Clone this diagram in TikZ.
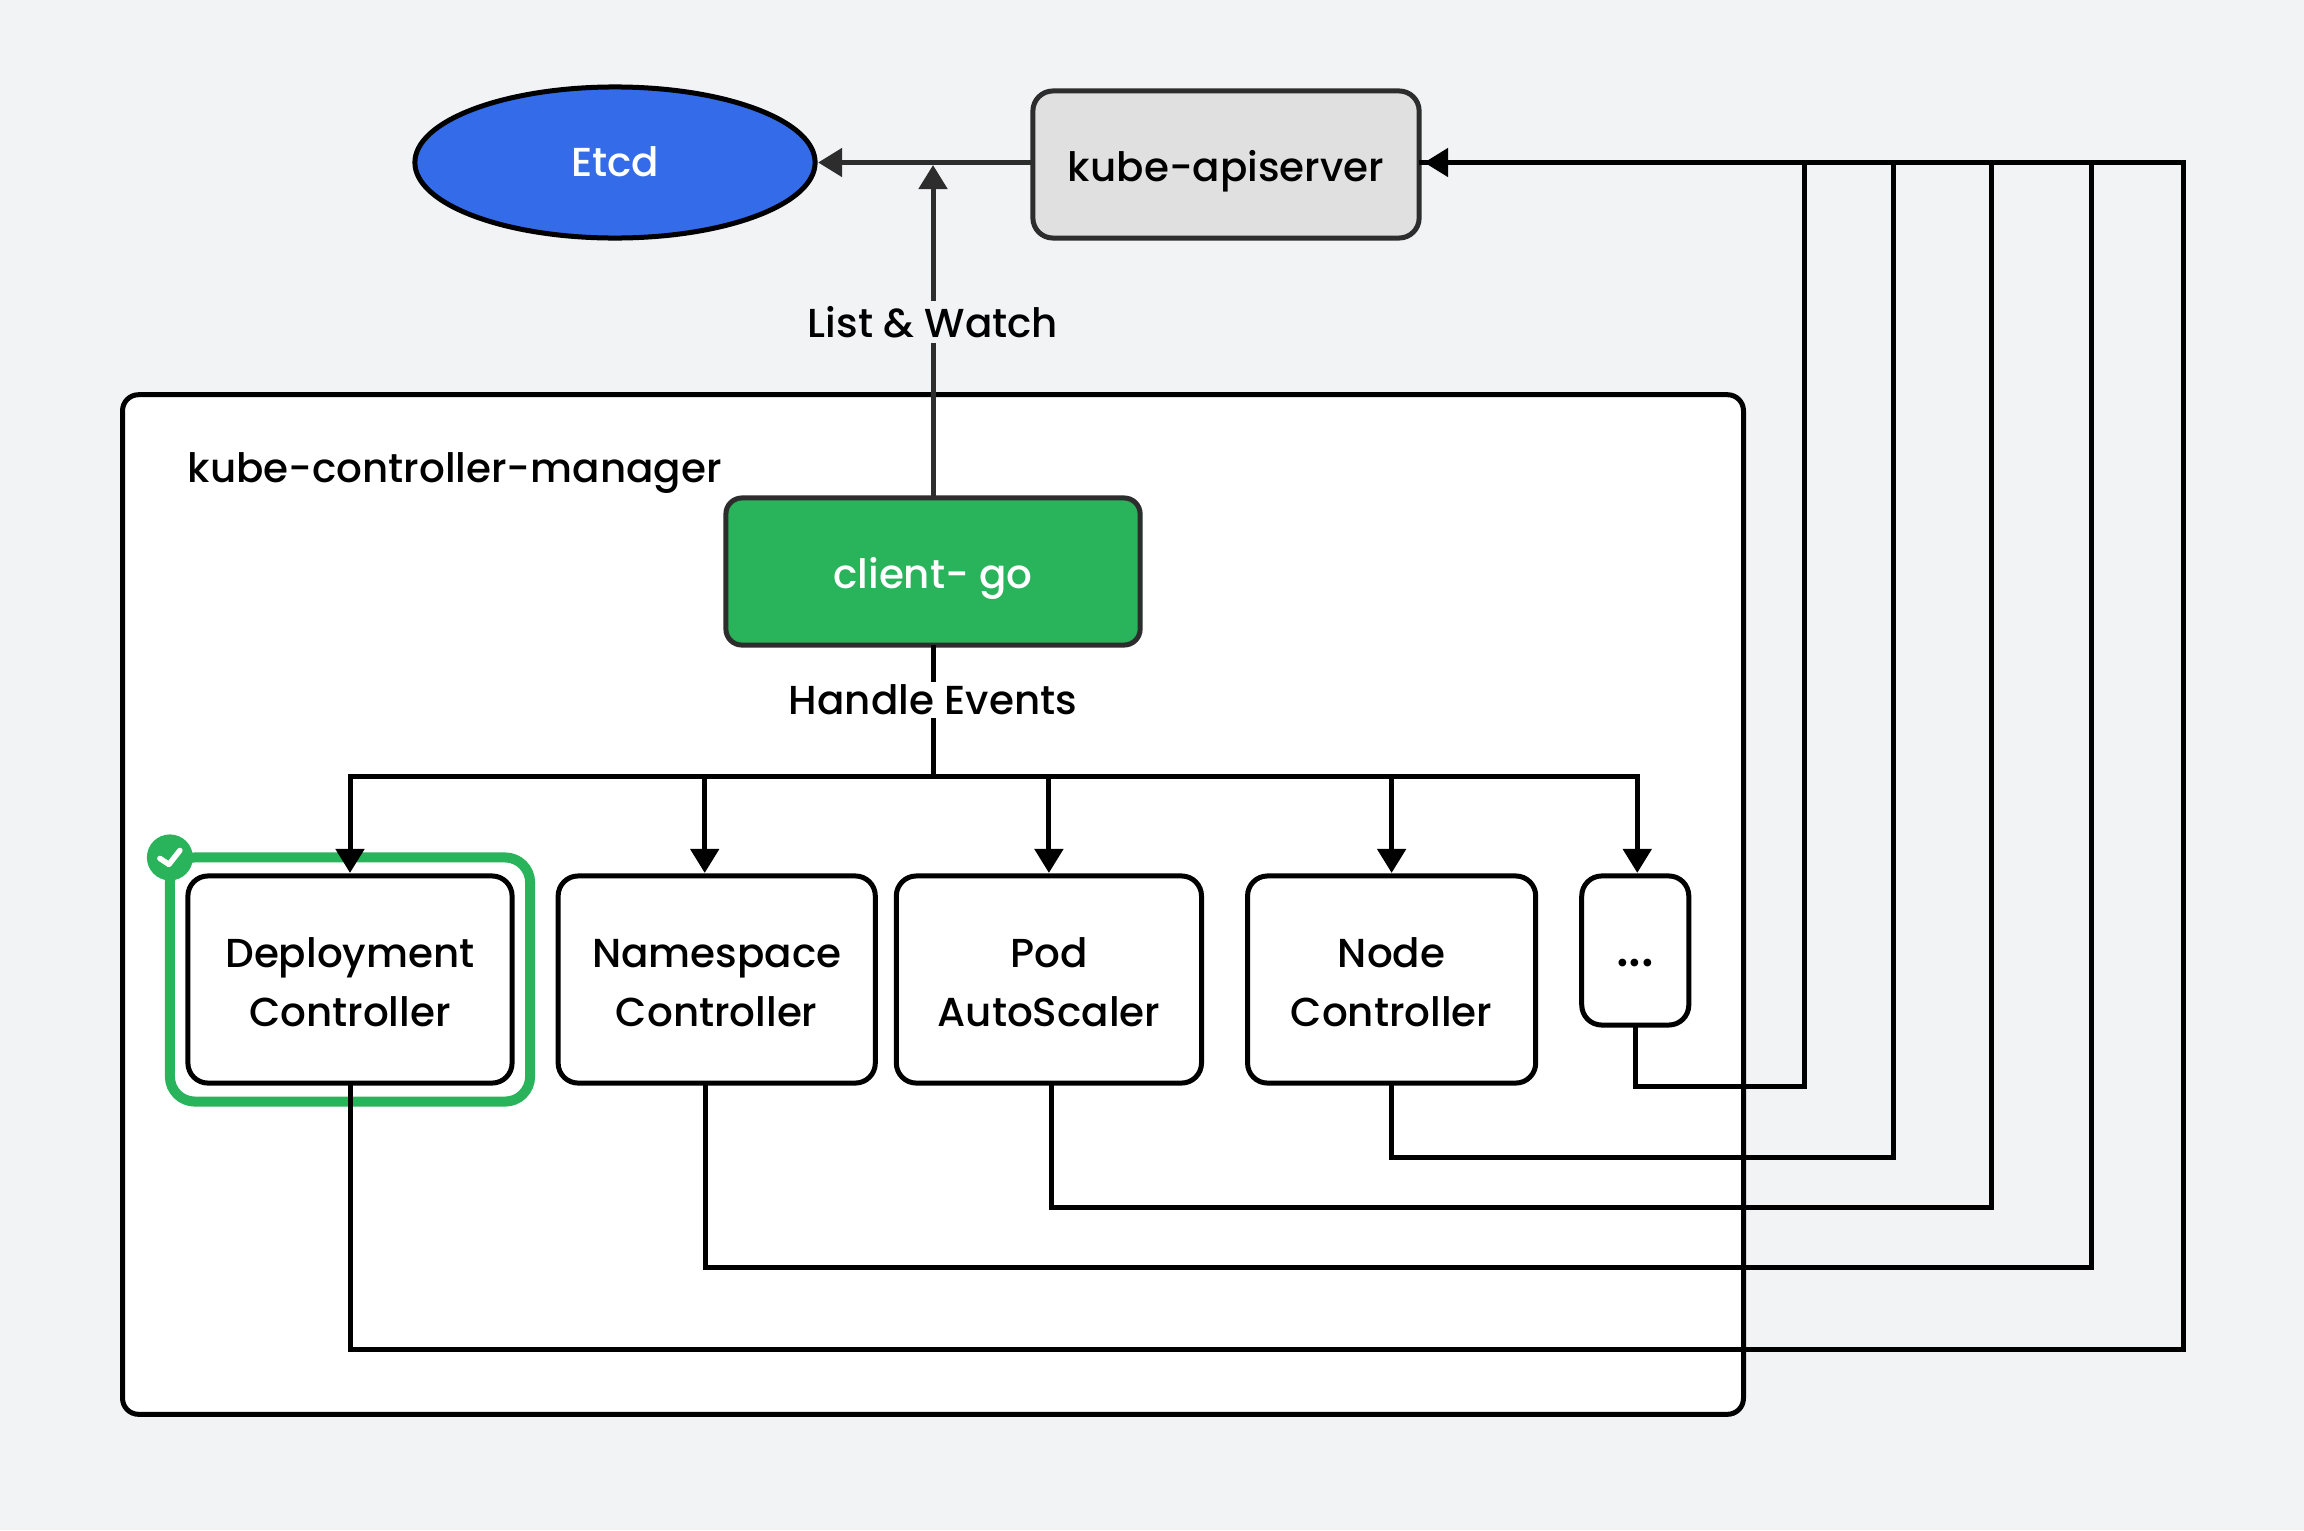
\documentclass[tikz,border=0pt]{standalone}
\usepackage{fontspec}
\setmainfont{Poppins Medium}
\usepackage{xcolor}
\usetikzlibrary{shapes.geometric, arrows.meta, positioning, calc}
\definecolor{bg}{RGB}{241,243,245}
\definecolor{etcdblue}{RGB}{51,107,232}
\definecolor{apigray}{RGB}{224,224,224}
\definecolor{darkline}{RGB}{45,45,45}
\definecolor{okgreen}{RGB}{41,179,90}
\newcommand{\ctrltext}[2]{\rule{0pt}{0.35cm}#1\\#2}
\tikzset{
    basefont/.style={font=\fontsize{11.5}{16.8}\selectfont},
    oneline/.style={basefont, text height=0.33cm, text depth=0cm},
    ctrl/.style={rectangle, rounded corners=0.2cm, minimum height=2.07cm, draw=black, fill=white, line width=0.05cm, outer sep=0, align=center, text centered, inner sep=0, basefont},
    line/.style={line width=0.05cm, color=black},
    arrow/.style={line width=0.05cm, color=black, -{Triangle[length=0.24cm, width=0.28cm]}, shorten >=0.03cm},
    darkarrow/.style={line width=0.05cm, color=darkline, -{Triangle[length=0.24cm, width=0.28cm]}, shorten >=0.03cm}
}
\begin{document}
\begin{tikzpicture}[x=0.01cm, y=-0.01cm]
    \fill [bg] (0,0) rectangle (2304,1530);

    % Top row
    \node (etcd) [ellipse, minimum width=4cm, minimum height=1.51cm, inner sep=0, outer sep=0, draw=black, fill=etcdblue, line width=0.05cm, text=white, basefont, text height=0.28cm, text depth=0cm] at (615,162.5) {Etcd};
    \node (api) [rectangle, rounded corners=0.2cm, minimum width=3.86cm, minimum height=1.47cm, inner sep=0, outer sep=0, draw=darkline, fill=apigray, line width=0.05cm, oneline] at (1226,164.5) {kube-apiserver};

    % Manager frame
    \node (manager) [rectangle, rounded corners=0.16cm, minimum width=16.2cm, minimum height=10.19cm, inner sep=0, outer sep=0, draw=black, fill=white, line width=0.05cm] at (933,904.5) {};
    \node (title) [basefont, anchor=base west, inner sep=0] at (187,482) {kube-controller-manager};
    \node (client) [rectangle, rounded corners=0.16cm, minimum width=4.14cm, minimum height=1.47cm, inner sep=0, outer sep=0, draw=darkline, fill=okgreen, line width=0.05cm, text=white, oneline] at (933,571.5) {client- go};

    % Controllers
    \node (deploy) [ctrl, minimum width=3.24cm] at (350,979.5) {\ctrltext{Deployment}{Controller}};
    \node (namespace) [ctrl, minimum width=3.17cm, right=0.46cm of deploy] {\ctrltext{Namespace}{Controller}};
    \node (pod) [ctrl, minimum width=3.05cm, right=0.21cm of namespace] {\ctrltext{Pod}{AutoScaler}};
    \node (nodectl) [ctrl, minimum width=2.88cm, right=0.46cm of pod] {\ctrltext{Node}{Controller}};
    \node (more) [ctrl, minimum width=1.07cm, minimum height=1.49cm, font=\fontsize{15}{18}\selectfont, text height=0.32cm, text depth=0cm, right=0.46cm of nodectl.north east, anchor=north west] {...};

    % Selected mark
    \node (selected) [rectangle, rounded corners=0.25cm, minimum width=3.6cm, minimum height=2.44cm, inner sep=0, outer sep=0, draw=okgreen, line width=0.1cm] at (deploy) {};
    \node (badge) [circle, minimum size=0.46cm, inner sep=0, fill=okgreen] at (selected.north west) {};
    \draw [white, line width=0.055cm, line cap=round, line join=round] ($(badge)+(-10,1)$) -- ($(badge)+(-1,7)$) -- ($(badge)+(10,-7)$);

    % Top arrows
    \draw [darkarrow] (api.west |- etcd.east) -- (etcd.east);
    \draw [darkarrow, shorten >=0.02cm] (client.north) -- node[pos=0.525, fill=bg, basefont, text=black, inner xsep=0.03cm, inner ysep=0.05cm] (listwatch) {List \& Watch} (933,163);

    % Handle events
    \coordinate (bus) at (933,776);
    \draw [line] (client.south) -- node[pos=0.42, fill=white, basefont, inner xsep=0.03cm, inner ysep=0.03cm] (events) {Handle Events} (bus);
    \draw [arrow] (bus) -| (deploy.north);
    \draw [arrow] (bus) -| ([xshift=-0.12cm]namespace.north);
    \draw [arrow] (bus) -| (pod.north);
    \draw [arrow] (bus) -| (nodectl.north);
    \draw [arrow] (bus) -| ([xshift=0.02cm]more.north);

    % Returns to the apiserver
    \coordinate (apiin) at (api.east |- etcd.east);
    \draw [line] (more.south) |- (1804,1086) |- (apiin);
    \draw [line] (nodectl.south) |- (1893,1157) |- (apiin);
    \draw [line] ([xshift=0.03cm]pod.south) |- (1991,1207) |- (apiin);
    \draw [line] ([xshift=-0.11cm]namespace.south) |- (2091,1267) |- (apiin);
    \draw [arrow, shorten >=0.05cm] (deploy.south) |- (2183,1349) |- (apiin);
\end{tikzpicture}
\end{document}
